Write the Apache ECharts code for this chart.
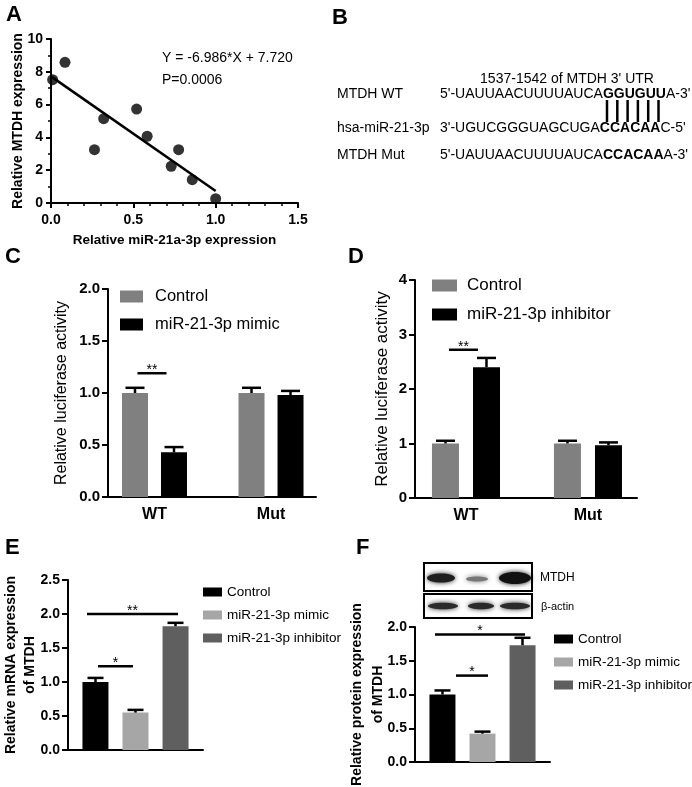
<!DOCTYPE html>
<html><head><meta charset="utf-8">
<script src="https://cdn.jsdelivr.net/npm/echarts@6/dist/echarts.min.js"></script>
<style>html,body{margin:0;padding:0;background:#fff}#c{width:692px;height:787px}</style>
</head><body><div id="c"></div>
<script>
// ---------- DATA ----------
// Panel A (scatter + regression)
const scatterX = [0.01, 0.085, 0.264, 0.32, 0.52, 0.584, 0.73, 0.775, 0.858, 1.0];
const scatterY = [7.52, 8.58, 3.25, 5.14, 5.73, 4.07, 2.24, 3.25, 1.42, 0.26];
const fitX = [0.0, 1.0];
const fitY = [7.72, 0.734];
const equationText = 'Y = -6.986*X + 7.720';
const pValueText = 'P=0.0006';
const titleAx = 'Relative miR-21a-3p expression';
const titleAy = 'Relative MTDH expression';
// Panel B (sequences)
const siteTitle = "1537-1542 of MTDH 3' UTR";
const seqLabels = ['MTDH WT', 'hsa-miR-21-3p', 'MTDH Mut'];
const seqParts = [
  ["5'-UAUUAACUUUUAUCA", 'GGUGUU', "A-3'"],
  ["3'-UGUCGGGUAGCUGA", 'CCACAA', "C-5'"],
  ["5'-UAUUAACUUUUAUCA", 'CCACAA', "A-3'"]
];
// Panel C
const groupsC = ['WT', 'Mut'];
const namesC = ['Control', 'miR-21-3p mimic'];
const controlC = [1.00, 1.00];
const controlErrC = [0.05, 0.05];
const mimicC = [0.43, 0.98];
const mimicErrC = [0.05, 0.04];
const sigC = [{ y: 1.19, label: '**' }];
// Panel D
const groupsD = ['WT', 'Mut'];
const namesD = ['Control', 'miR-21-3p inhibitor'];
const controlD = [1.00, 1.00];
const controlErrD = [0.05, 0.05];
const inhibitorD = [2.40, 0.97];
const inhibitorErrD = [0.17, 0.05];
const sigD = [{ y: 2.72, label: '**' }];
// Panel E
const namesE = ['Control', 'miR-21-3p mimic', 'miR-21-3p inhibitor'];
const valuesE = [1.00, 0.55, 1.82];
const errE = [0.06, 0.04, 0.05];
const sigE = [{ y: 1.23, label: '*' }, { y: 2.0, label: '**' }];
// Panel F
const namesF = ['Control', 'miR-21-3p mimic', 'miR-21-3p inhibitor'];
const valuesF = [1.00, 0.42, 1.73];
const errF = [0.06, 0.03, 0.11];
const sigF = [{ y: 1.89, label: '*' }, { y: 1.28, label: '*' }];
const blotLabels = ['MTDH', 'β-actin'];

// ---------- STYLE / LAYOUT ----------
const FONT = 'Arial, "Liberation Sans", Helvetica, sans-serif';
const grayC = '#808080', blackC = '#000000', lightE = '#a6a6a6', darkE = '#5f5f5f';
const sigOffC = [[-17, 12]];
const sigOffD = [[-17, 12]];
const sigOffE = [[-37.5, -2.5], [-48.5, 42.5]];
const sigOffF = [[-47.5, 42.5], [-26.5, 5.5]];

function baseAxis(extra) {
  return Object.assign({
    nameMoveOverlap: false,
    axisLine: { show: true, onZero: false, lineStyle: { color: '#000', width: 2 } },
    axisTick: { show: true, length: 6, lineStyle: { color: '#000', width: 2 } },
    splitLine: { show: false },
    axisLabel: { color: '#000', fontFamily: FONT, fontWeight: 'bold', fontSize: 15 }
  }, extra);
}
const fmt1 = v => v.toFixed(1);

function errSeries(xi, yi, pts, cap) {
  return {
    type: 'custom', xAxisIndex: xi, yAxisIndex: yi, z: 5, silent: true,
    data: pts, encode: { x: 0, y: 1 },
    renderItem: (params, api) => {
      const x = api.value(0), y = api.value(1), e = api.value(2), off = api.value(3);
      const p0 = api.coord([x, y]); const p1 = api.coord([x, y + e]);
      const cx = p0[0] + off;
      return { type: 'group', children: [
        { type: 'line', shape: { x1: cx, y1: p0[1], x2: cx, y2: p1[1] }, style: { stroke: '#000', lineWidth: 2.5 } },
        { type: 'line', shape: { x1: cx - cap / 2, y1: p1[1], x2: cx + cap / 2, y2: p1[1] }, style: { stroke: '#000', lineWidth: 2.5 } }
      ] };
    }
  };
}
function sigSeries(xi, yi, gx, sig, offs, fs) {
  return {
    type: 'custom', xAxisIndex: xi, yAxisIndex: yi, z: 6, silent: true,
    data: sig.map((s, i) => [gx, s.y, offs[i][0], offs[i][1]]), encode: { x: 0, y: 1 },
    renderItem: (params, api) => {
      const p = api.coord([api.value(0), api.value(1)]);
      const a = p[0] + api.value(2), b = p[0] + api.value(3);
      return { type: 'group', children: [
        { type: 'line', shape: { x1: a, y1: p[1], x2: b, y2: p[1] }, style: { stroke: '#000', lineWidth: 2.5 } },
        { type: 'text', style: { text: sig[params.dataIndex].label, x: (a + b) / 2, y: p[1] - 3, align: 'center', verticalAlign: 'middle', fontSize: fs, fontFamily: FONT, fill: '#000' } }
      ] };
    }
  };
}
const legendFmt = n => n.split('|')[1];

const chart = echarts.init(document.getElementById('c'), null, { renderer: 'canvas' });

const option = {
  backgroundColor: '#fff',
  animation: false,
  grid: [
    { left: 51, top: 39, width: 247, height: 164, outerBoundsMode: 'none' },
    { left: 108, top: 289, width: 208, height: 208, outerBoundsMode: 'none' },
    { left: 415, top: 280, width: 222, height: 218, outerBoundsMode: 'none' },
    { left: 68, top: 580, width: 135, height: 170, outerBoundsMode: 'none' },
    { left: 415, top: 627, width: 135, height: 135, outerBoundsMode: 'none' }
  ],
  xAxis: [
    baseAxis({ gridIndex: 0, type: 'value', min: 0, max: 1.5, interval: 0.5,
      axisTick: { show: true, length: 5, lineStyle: { color: '#000', width: 2 } },
      minorTick: { show: true, splitNumber: 5, length: 3, lineStyle: { color: '#000', width: 1.5 } },
      axisLabel: { color: '#000', fontFamily: FONT, fontWeight: 'bold', fontSize: 14, formatter: fmt1, margin: 10 },
      name: titleAx, nameLocation: 'middle', nameGap: 30,
      nameTextStyle: { color: '#000', fontFamily: FONT, fontWeight: 'bold', fontSize: 13.5 } }),
    baseAxis({ gridIndex: 1, type: 'value', min: -0.399, max: 1.386,
      axisTick: { show: false },
      axisLabel: { color: '#000', fontFamily: FONT, fontWeight: 'bold', fontSize: 16, margin: 10,
        customValues: [0, 1], formatter: v => groupsC[Math.round(v)] } }),
    baseAxis({ gridIndex: 2, type: 'value', min: -0.418, max: 1.402,
      axisTick: { show: false },
      axisLabel: { color: '#000', fontFamily: FONT, fontWeight: 'bold', fontSize: 16, margin: 10,
        customValues: [0, 1], formatter: v => groupsD[Math.round(v)] } }),
    baseAxis({ gridIndex: 3, type: 'category', data: [''], axisTick: { show: false }, axisLabel: { show: false } }),
    baseAxis({ gridIndex: 4, type: 'category', data: [''], axisTick: { show: false }, axisLabel: { show: false } })
  ],
  yAxis: [
    baseAxis({ gridIndex: 0, type: 'value', min: 0, max: 10, interval: 2,
      axisTick: { show: true, length: 5, lineStyle: { color: '#000', width: 2 } },
      minorTick: { show: true, splitNumber: 2, length: 3, lineStyle: { color: '#000', width: 1.5 } },
      axisLabel: { color: '#000', fontFamily: FONT, fontWeight: 'bold', fontSize: 14 },
      name: titleAy, nameLocation: 'middle', nameGap: 26,
      nameTextStyle: { color: '#000', fontFamily: FONT, fontWeight: 'bold', fontSize: 14 } }),
    baseAxis({ gridIndex: 1, type: 'value', min: 0, max: 2, interval: 0.5,
      axisLabel: { color: '#000', fontFamily: FONT, fontWeight: 'bold', fontSize: 15, formatter: fmt1 },
      name: 'Relative luciferase activity', nameLocation: 'middle', nameGap: 38,
      nameTextStyle: { color: '#000', fontFamily: FONT, fontSize: 16 } }),
    baseAxis({ gridIndex: 2, type: 'value', min: 0, max: 4, interval: 1,
      name: 'Relative luciferase activity', nameLocation: 'middle', nameGap: 24,
      nameTextStyle: { color: '#000', fontFamily: FONT, fontSize: 17 } }),
    baseAxis({ gridIndex: 3, type: 'value', min: 0, max: 2.5, interval: 0.5,
      axisLabel: { color: '#000', fontFamily: FONT, fontWeight: 'bold', fontSize: 14, formatter: fmt1 },
      name: 'Relative mRNA expression\nof MTDH', nameLocation: 'middle', nameGap: 28,
      nameTextStyle: { color: '#000', fontFamily: FONT, fontWeight: 'bold', fontSize: 14, lineHeight: 19, align: 'center' } }),
    baseAxis({ gridIndex: 4, type: 'value', min: 0, max: 2, interval: 0.5,
      axisLabel: { color: '#000', fontFamily: FONT, fontWeight: 'bold', fontSize: 14, formatter: fmt1 },
      name: 'Relative protein expression\nof MTDH', nameLocation: 'middle', nameGap: 26,
      nameTextStyle: { color: '#000', fontFamily: FONT, fontWeight: 'bold', fontSize: 14, lineHeight: 21, align: 'center' } })
  ],
  legend: [
    { data: namesC.map(n => 'C|' + n), formatter: legendFmt, left: 120, top: 288, orient: 'vertical', icon: 'rect', padding: 0,
      itemWidth: 23, itemHeight: 12, itemGap: 11, selectedMode: false,
      textStyle: { fontSize: 16.5, lineHeight: 16, fontFamily: FONT, color: '#000', padding: [0, 0, 0, 7] } },
    { data: namesD.map(n => 'D|' + n), formatter: legendFmt, left: 432, top: 277, orient: 'vertical', icon: 'rect', padding: 0,
      itemWidth: 25, itemHeight: 12, itemGap: 12, selectedMode: false,
      textStyle: { fontSize: 17, lineHeight: 16, fontFamily: FONT, color: '#000', padding: [0, 0, 0, 5] } },
    { data: namesE.map(n => 'E|' + n), formatter: legendFmt, left: 203, top: 585, orient: 'vertical', icon: 'rect', padding: 0,
      itemWidth: 19, itemHeight: 9, itemGap: 9, selectedMode: false,
      textStyle: { fontSize: 13.5, lineHeight: 14, fontFamily: FONT, color: '#000' } },
    { data: namesF.map(n => 'F|' + n), formatter: legendFmt, left: 554, top: 632, orient: 'vertical', icon: 'rect', padding: 0,
      itemWidth: 19, itemHeight: 9, itemGap: 9, selectedMode: false,
      textStyle: { fontSize: 13.5, lineHeight: 14, fontFamily: FONT, color: '#000' } }
  ],
  series: [
    { type: 'scatter', xAxisIndex: 0, yAxisIndex: 0, symbolSize: 11, itemStyle: { color: '#000' },
      data: scatterX.map((x, i) => [x, scatterY[i]]) },
    { type: 'line', xAxisIndex: 0, yAxisIndex: 0, showSymbol: false, lineStyle: { color: '#000', width: 2.5 },
      data: fitX.map((x, i) => [x, fitY[i]]) },
    // C
    { type: 'bar', name: 'C|' + namesC[0], xAxisIndex: 1, yAxisIndex: 1, barWidth: 26, barGap: '50%',
      itemStyle: { color: grayC }, data: controlC.map((v, i) => [i, v]) },
    { type: 'bar', name: 'C|' + namesC[1], xAxisIndex: 1, yAxisIndex: 1, barWidth: 26, barGap: '50%',
      itemStyle: { color: blackC }, data: mimicC.map((v, i) => [i, v]) },
    errSeries(1, 1, controlC.map((v, i) => [i, v, controlErrC[i], -19.5]).concat(mimicC.map((v, i) => [i, v, mimicErrC[i], 19.5])), 19),
    sigSeries(1, 1, 0, sigC, sigOffC, 14),
    // D
    { type: 'bar', name: 'D|' + namesD[0], xAxisIndex: 2, yAxisIndex: 2, barWidth: 27, barGap: '52%',
      itemStyle: { color: grayC }, data: controlD.map((v, i) => [i, v]) },
    { type: 'bar', name: 'D|' + namesD[1], xAxisIndex: 2, yAxisIndex: 2, barWidth: 27, barGap: '52%',
      itemStyle: { color: blackC }, data: inhibitorD.map((v, i) => [i, v]) },
    errSeries(2, 2, controlD.map((v, i) => [i, v, controlErrD[i], -20.5]).concat(inhibitorD.map((v, i) => [i, v, inhibitorErrD[i], 20.5])), 19),
    sigSeries(2, 2, 0, sigD, sigOffD, 14),
    // E
    ...namesE.map((n, k) => ({ type: 'bar', name: 'E|' + n, xAxisIndex: 3, yAxisIndex: 3, barWidth: 26, barGap: '54%',
      itemStyle: { color: [blackC, lightE, darkE][k] }, data: [valuesE[k]] })),
    errSeries(3, 3, valuesE.map((v, k) => [0, v, errE[k], (k - 1) * 40]), 16),
    sigSeries(3, 3, 0, sigE, sigOffE, 14),
    // F
    ...namesF.map((n, k) => ({ type: 'bar', name: 'F|' + n, xAxisIndex: 4, yAxisIndex: 4, barWidth: 26, barGap: '54%',
      itemStyle: { color: [blackC, lightE, darkE][k] }, data: [valuesF[k]] })),
    errSeries(4, 4, valuesF.map((v, k) => [0, v, errF[k], (k - 1) * 40]), 16),
    sigSeries(4, 4, 0, sigF, sigOffF, 14)
  ],
  graphic: []
};

// ---------- GRAPHIC ANNOTATIONS ----------
const g = option.graphic;
const panelLabel = (t, x, y) => g.push({ type: 'text', x, y, style: { text: t, fontSize: 22, fontWeight: 'bold', fontFamily: FONT, fill: '#000' } });
panelLabel('A', 6, 4); panelLabel('B', 332, 7); panelLabel('C', 5, 246);
panelLabel('D', 348, 246); panelLabel('E', 5, 537); panelLabel('F', 356, 537);
// A equation
g.push({ type: 'text', x: 162, y: 58, style: { text: equationText, fontSize: 14, fontFamily: FONT, fill: '#000', verticalAlign: 'middle' } });
g.push({ type: 'text', x: 162, y: 80, style: { text: pValueText, fontSize: 14, fontFamily: FONT, fill: '#000', verticalAlign: 'middle' } });
// B
g.push({ type: 'text', x: 567, y: 79, style: { text: siteTitle, fontSize: 14, fontFamily: FONT, fill: '#000', align: 'center', verticalAlign: 'middle' } });
const seqY = [94, 128, 155];
seqLabels.forEach((lab, i) => {
  g.push({ type: 'text', x: 337, y: seqY[i], style: { text: lab, fontSize: 14, fontFamily: FONT, fill: '#000', verticalAlign: 'middle' } });
  const p = seqParts[i];
  g.push({ type: 'text', x: 440, y: seqY[i], style: {
    text: '{n|' + p[0] + '}{b|' + p[1] + '}{n|' + p[2] + '}', verticalAlign: 'middle',
    rich: { n: { fontSize: 14, fontFamily: FONT, fill: '#000', color: '#000' },
            b: { fontSize: 14, fontFamily: FONT, fontWeight: 'bold', fill: '#000', color: '#000' } } } });
});
for (let i = 0; i < 6; i++) {
  const x = 607 + i * 10.3;
  g.push({ type: 'line', shape: { x1: x, y1: 100, x2: x, y2: 122 }, style: { stroke: '#000', lineWidth: 2.5 } });
}
// F western blot
g.push({ type: 'rect', shape: { x: 424, y: 563, width: 108, height: 28 }, style: { fill: '#fff', stroke: '#000', lineWidth: 2 } });
g.push({ type: 'rect', shape: { x: 424, y: 594, width: 108, height: 24 }, style: { fill: '#fff', stroke: '#000', lineWidth: 2 } });
const band = (cx, cy, rx, ry, c) => g.push({ type: 'ellipse', shape: { cx, cy, rx, ry },
  style: { fill: c, shadowBlur: 5, shadowColor: c } });
band(441, 578, 14, 4.5, '#1e1e1e'); band(477, 579, 11, 2.5, '#777'); band(515, 578, 16, 6, '#111');
band(443, 606, 15, 3.2, '#2a2a2a'); band(481, 606, 13, 3.2, '#2a2a2a'); band(515, 606, 15, 3.2, '#2a2a2a');
g.push({ type: 'text', x: 540, y: 578, style: { text: blotLabels[0], fontSize: 12, fontFamily: FONT, fill: '#000', verticalAlign: 'middle' } });
g.push({ type: 'text', x: 541, y: 607, style: { text: blotLabels[1], fontSize: 11, fontFamily: FONT, fill: '#000', verticalAlign: 'middle' } });

chart.setOption(option);
</script>
</body></html>
